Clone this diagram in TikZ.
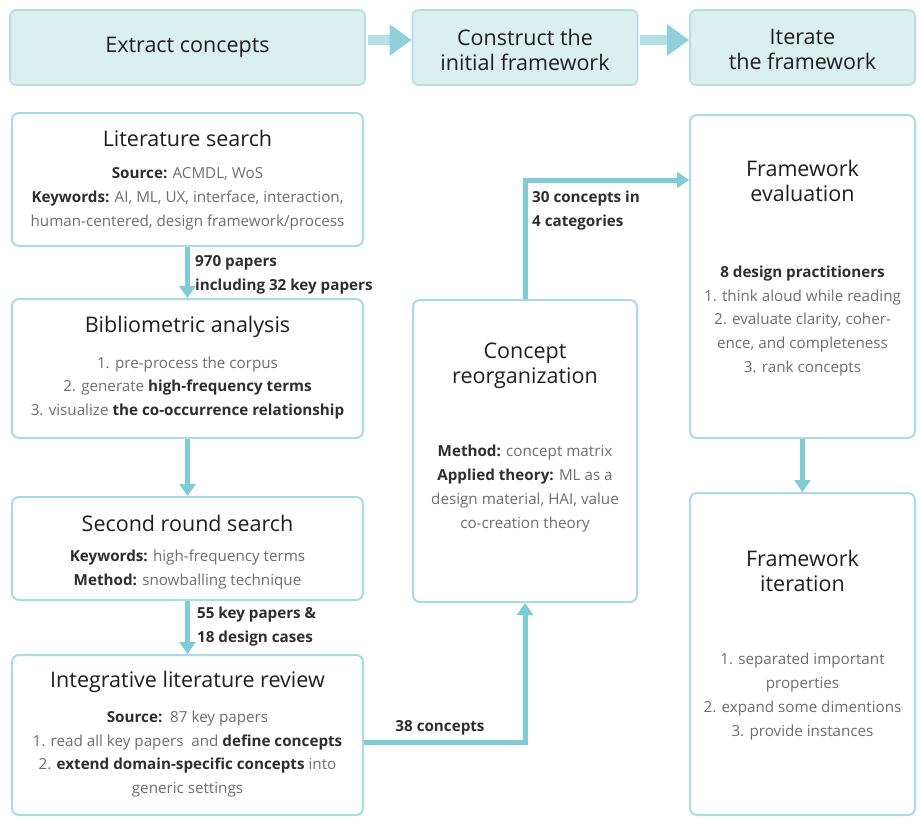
\documentclass[tikz,border=0pt]{standalone}
\usepackage{fontspec}
\setmainfont{Open Sans}
\usetikzlibrary{arrows.meta}

\definecolor{bandfill}{HTML}{DCEFEF}
\definecolor{bandline}{HTML}{B3DFE4}
\definecolor{boxline}{HTML}{A9DCE2}
\definecolor{flow}{HTML}{7FCCD7}
\definecolor{shaftc}{HTML}{B5E1E6}
\definecolor{headc}{HTML}{8FD0DA}
\definecolor{titlec}{HTML}{1F1F1F}
\definecolor{keyc}{HTML}{2E2E2E}
\definecolor{bodyc}{HTML}{6E6E6E}

\newcommand{\kw}[1]{{\bfseries\color{keyc}#1}}

\tikzset{
  phase/.style={draw=bandline, fill=bandfill, line width=1.6pt, rounded corners=6pt,
    minimum height=75pt, inner sep=0pt},
  phasetext/.style={text=titlec, font=\fontsize{21.5}{25}\selectfont, align=center},
  stepbox/.style={draw=boxline, fill=white, line width=2pt, rounded corners=7pt, inner sep=0pt},
  boxtitle/.style={text=titlec, font=\fontsize{21.5}{25}\selectfont, align=center},
  boxbody/.style={text=bodyc, font=\fontsize{15.2}{23.8}\selectfont, align=center},
  flowlabel/.style={text=keyc, font=\fontsize{15.2}{24}\selectfont\bfseries, align=left, anchor=west, inner sep=0pt},
  link/.style={draw=flow, line width=5pt, -{Triangle[width=16pt,length=12pt]}},
  bigarrow/.style={draw=shaftc, line width=10pt, -{Triangle[width=30pt,length=22pt,color=headc]}},
}

\begin{document}
\begin{tikzpicture}[x=1pt, y=-1pt]
\useasboundingbox (0,0) rectangle (920,820);

% phase bands
\node[phase, minimum width=355pt] (p1) at (187.5,47.5) {};
\node[phase, minimum width=225pt] (p2) at (525,47.5) {};
\node[phase, minimum width=225pt] (p3) at (802.5,47.5) {};
\node[phasetext] (p1t) at (p1.center) {Extract concepts};
\node[phasetext] (p2t) at (525,49.5) {Construct the\\initial framework};
\node[phasetext] (p3t) at (802.5,49.5) {Iterate\\the framework};
\draw[bigarrow] ([xshift=2pt, yshift=7.5pt]p1.east) -- ([yshift=7.5pt]p2.west);
\draw[bigarrow] ([xshift=2pt, yshift=7.5pt]p2.east) -- ([yshift=7.5pt]p3.west);

% left column
\node[stepbox, minimum width=351pt, minimum height=133pt] (lit) at (187.5,179.5) {};
\node[boxtitle] (litt) at (187.5,138) {Literature search};
\node[boxbody] (litb) at (187.5,199) {\kw{Source:} ACMDL, WoS\\
  \kw{Keywords:} AI, ML, UX, interface, interaction,\\
  human-centered, design framework/process};

\node[stepbox, minimum width=351pt, minimum height=139pt] (bib) at (187.5,368.5) {};
\node[boxtitle] (bibt) at (187.5,327) {Bibliometric analysis};
\node[boxbody] (bibb) at (187.5,388) {1. pre-process the corpus\\
  2. generate \kw{high-frequency terms}\\
  3. visualize \kw{the co-occurrence relationship}};

\node[stepbox, minimum width=351pt, minimum height=103pt] (sec) at (187.5,548.5) {};
\node[boxtitle] (sect) at (187.5,523) {Second round search};
\node[boxbody] (secb) at (187.5,569.5) {\kw{Keywords:} high-frequency terms\\
  \kw{Method:} snowballing technique};

\node[stepbox, minimum width=351pt, minimum height=160pt] (ilr) at (187.5,735) {};
\node[boxtitle] (ilrt) at (187.5,682) {Integrative literature review};
\node[boxbody] (ilrb) at (187.5,754) {\kw{Source:}\ \ 87 key papers\\
  1. read all key papers\ \ and \kw{define concepts}\\
  2. \kw{extend domain-specific concepts} into\\
  generic settings};

% middle column
\node[stepbox, minimum width=224pt, minimum height=302pt] (cr) at (525,451) {};
\node[boxtitle] (crt) at (525,365.5) {Concept\\reorganization};
\node[boxbody] (crb) at (525,488.5) {\kw{Method:} concept matrix\\
  \kw{Applied theory:} ML as a\\
  design material, HAI, value\\
  co-creation theory};

% right column
\node[stepbox, minimum width=225pt, minimum height=323pt] (fe) at (802.5,276.5) {};
\node[boxtitle] (fet) at (802.5,181) {Framework\\evaluation};
\node[boxbody] (feb) at (802.5,321) {\kw{8 design practitioners}\\
  1. think aloud while reading\\
  2. evaluate clarity, coher-\\
  ence, and completeness\\
  3. rank concepts};

\node[stepbox, minimum width=225pt, minimum height=322pt] (fi) at (802.5,654) {};
\node[boxtitle] (fit) at (802.5,570.5) {Framework\\iteration};
\node[boxbody] (fib) at (802.5,696.5) {1. separated important\\
  properties\\
  2. expand some dimentions\\
  3. provide instances};

% connectors
\draw[link] (lit.south) -- (bib.north);
\draw[link] (bib.south) -- (sec.north);
\draw[link] (sec.south) -- (ilr.north);
\draw[link] ([yshift=-7pt]ilr.east) -| (cr.south);
\draw[link] (cr.north) |- (fe.west |- 0,180);
\draw[link] (fe.south) -- (fi.north);

% connector labels
\node[flowlabel] (l1) at (195,275) {970 papers\\including 32 key papers};
\node[flowlabel] (l2) at (197,627) {55 key papers \&\\18 design cases};
\node[flowlabel, anchor=center] (l3) at (440,728) {38 concepts};
\node[flowlabel] (l4) at (532,211) {30 concepts in\\4 categories};
\end{tikzpicture}
\end{document}
